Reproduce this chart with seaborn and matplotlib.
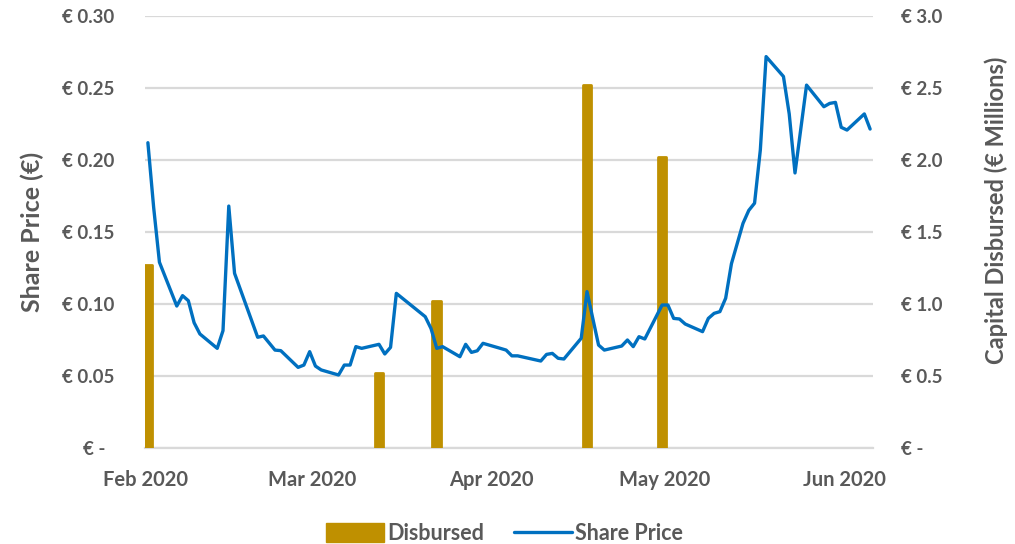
import matplotlib
matplotlib.use("Agg")
import matplotlib.pyplot as plt
from matplotlib.patches import Patch
from matplotlib.lines import Line2D
import pandas as pd
import seaborn as sns

# Share price observations (EUR)
price_dates = [
    "2020-02-01", "2020-02-02", "2020-02-03", "2020-02-06", "2020-02-07", "2020-02-08",
    "2020-02-09", "2020-02-10", "2020-02-13", "2020-02-14", "2020-02-15", "2020-02-16",
    "2020-02-20", "2020-02-21", "2020-02-23", "2020-02-24", "2020-02-27", "2020-02-28",
    "2020-02-29", "2020-03-01", "2020-03-02", "2020-03-05", "2020-03-06", "2020-03-07",
    "2020-03-08", "2020-03-09", "2020-03-12", "2020-03-13", "2020-03-14", "2020-03-15",
    "2020-03-20", "2020-03-21", "2020-03-22", "2020-03-23", "2020-03-26", "2020-03-27",
    "2020-03-28", "2020-03-29", "2020-03-30", "2020-04-02", "2020-04-03", "2020-04-04",
    "2020-04-05", "2020-04-09", "2020-04-10", "2020-04-11", "2020-04-12", "2020-04-13",
    "2020-04-16", "2020-04-17", "2020-04-18",
    "2020-04-19", "2020-04-20", "2020-04-23", "2020-04-24", "2020-04-25", "2020-04-26",
    "2020-04-27", "2020-04-30", "2020-05-01", "2020-05-02", "2020-05-03", "2020-05-04",
    "2020-05-07", "2020-05-08", "2020-05-09", "2020-05-10", "2020-05-11", "2020-05-12",
    "2020-05-14", "2020-05-15", "2020-05-16", "2020-05-17", "2020-05-18", "2020-05-21",
    "2020-05-22", "2020-05-23", "2020-05-25", "2020-05-28", "2020-05-29", "2020-05-30",
    "2020-05-31", "2020-06-01", "2020-06-04", "2020-06-05",
]
share_price = [
    0.212, 0.167, 0.129, 0.0986, 0.1058, 0.1023,
    0.087, 0.0792, 0.0692, 0.0815, 0.168, 0.1213,
    0.0769, 0.0778, 0.068, 0.0676, 0.056, 0.0576,
    0.0669, 0.0569, 0.0542, 0.0507, 0.0576, 0.0576,
    0.0704, 0.0692, 0.072, 0.0653, 0.0699, 0.1074,
    0.0912, 0.083, 0.0692, 0.0704, 0.0634, 0.072,
    0.0664, 0.0675, 0.0727, 0.0692, 0.068, 0.064,
    0.064, 0.0604, 0.065, 0.0657, 0.0623, 0.0618,
    0.0762, 0.1086, 0.090,
    0.0715, 0.068, 0.0708, 0.075, 0.0704, 0.0773,
    0.0757, 0.0993, 0.0993, 0.090, 0.0896, 0.0861,
    0.0808, 0.090, 0.0935, 0.0947, 0.104, 0.128,
    0.156, 0.165, 0.170, 0.207, 0.2718, 0.258,
    0.232, 0.191, 0.252, 0.237, 0.2393, 0.240,
    0.2227, 0.2208, 0.232, 0.2215,
]

# Capital disbursed (EUR millions)
disbursed_dates = ["2020-02-01", "2020-03-12", "2020-03-22", "2020-04-17", "2020-04-30"]
disbursed = [1.27, 0.52, 1.02, 2.52, 2.02]

price_ticks = [0.0, 0.05, 0.10, 0.15, 0.20, 0.25, 0.30]
price_labels = ["€ -  ", "€ 0.05", "€ 0.10", "€ 0.15", "€ 0.20", "€ 0.25", "€ 0.30"]
capital_ticks = [0.0, 0.5, 1.0, 1.5, 2.0, 2.5, 3.0]
capital_labels = ["€ -", "€ 0.5", "€ 1.0", "€ 1.5", "€ 2.0", "€ 2.5", "€ 3.0"]
month_ticks = ["2020-02-01", "2020-03-01", "2020-04-01", "2020-05-01", "2020-06-01"]
month_labels = ["Feb 2020", "Mar 2020", "Apr 2020", "May 2020", "Jun 2020"]

GOLD = "#BF9000"
BLUE = "#0070C0"
TEXT = "#595959"
GRID = "#D9D9D9"

sns.set_theme(style="white")
plt.rcParams["font.family"] = ["Lato", "DejaVu Sans"]
plt.rcParams["font.weight"] = "bold"

# each daily value sits in the middle of its day slot
half_day = pd.Timedelta(hours=12)
price_df = pd.DataFrame({"date": pd.to_datetime(price_dates) + half_day, "price": share_price})
bar_x = pd.to_datetime(disbursed_dates) + half_day

fig = plt.figure(figsize=(10.15, 5.44), dpi=100)
ax_line = fig.add_axes([145 / 1015, 1 - 448 / 544, 728 / 1015, 432 / 544])
ax_bar = ax_line.twinx()
ax_line.set_zorder(ax_bar.get_zorder() + 1)
ax_line.patch.set_visible(False)

# capital disbursed bars (right axis)
ax_bar.bar(bar_x, disbursed, width=1.5, color=GOLD, edgecolor=GOLD,
           linewidth=2.0, joinstyle="round", zorder=3)
ax_bar.set_ylim(0, 3.0)
ax_bar.set_yticks(capital_ticks)
ax_bar.set_yticklabels(capital_labels)
ax_bar.grid(True, axis="both", color=GRID, linewidth=1.6, zorder=0)
ax_bar.set_axisbelow(True)
ax_bar.set_ylabel("Capital Disbursed (€ Millions)", fontsize=17, fontweight="bold",
                  color=TEXT, rotation=90, ha="center", va="center")
ax_bar.yaxis.set_label_coords(1.169, 0.551)

# share price line (left axis)
sns.lineplot(data=price_df, x="date", y="price", ax=ax_line, color=BLUE,
             linewidth=2.4, zorder=5)
ax_line.set_ylim(0, 0.30)
ax_line.set_yticks(price_ticks)
ax_line.set_yticklabels(price_labels)
ax_line.set_ylabel("Share Price (€)", fontsize=18, fontweight="bold", color=TEXT,
                   ha="center", va="center")
ax_line.yaxis.set_label_coords(-0.155, 0.5)
ax_line.set_xlabel("")

xmin = pd.Timestamp("2020-02-01")
xmax = pd.Timestamp("2020-06-06")
for ax in (ax_line, ax_bar):
    ax.set_xlim(xmin, xmax)
    ax.set_xticks(pd.to_datetime(month_ticks))
    ax.set_xticklabels(month_labels)
    ax.tick_params(length=0, labelsize=13.5, labelcolor=TEXT)
    for s in ax.spines.values():
        s.set_visible(False)

ax_line.tick_params(axis="y", pad=22)
ax_bar.tick_params(axis="y", pad=20)
ax_line.tick_params(axis="x", pad=16, labelsize=14.5)
ax_bar.spines["bottom"].set_visible(True)
ax_bar.spines["bottom"].set_color(GRID)
ax_bar.spines["bottom"].set_linewidth(1.6)
for lab in ax_line.get_xticklabels() + ax_line.get_yticklabels() + ax_bar.get_yticklabels():
    lab.set_fontweight("bold")

handles = [
    Patch(facecolor=GOLD, edgecolor=GOLD, label="Disbursed", joinstyle="round"),
    Line2D([0], [0], color=BLUE, linewidth=2.4, label="Share Price"),
]
leg = fig.legend(handles=handles, loc="lower center", bbox_to_anchor=(0.497, -0.036),
                 ncol=2, frameon=False, fontsize=15.5, handlelength=2.7, handleheight=1.0,
                 handletextpad=0.15, columnspacing=1.4)
for t in leg.get_texts():
    t.set_color(TEXT)
    t.set_fontweight("bold")

fig.savefig("out.png", dpi=100)
